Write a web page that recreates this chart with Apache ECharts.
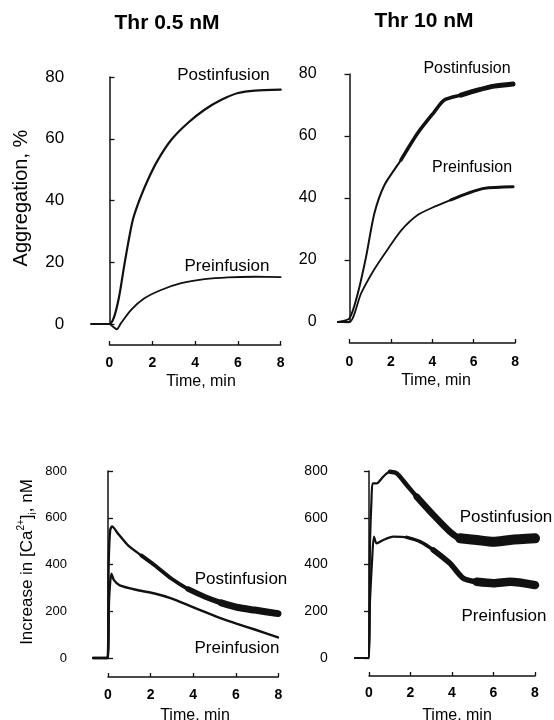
<!DOCTYPE html>
<html><head><meta charset="utf-8">
<script src="https://cdn.jsdelivr.net/npm/echarts@6/dist/echarts.min.js"></script>
<style>html,body{margin:0;padding:0;background:#fff}#c{width:554px;height:720px}</style>
</head><body><div id="c"></div>
<script>
// ---- Titles and labels ----
const titleLow = 'Thr 0.5 nM';
const titleHigh = 'Thr 10 nM';
const aggName = 'Aggregation, %';
const timeName = 'Time, min';
const postName = 'Postinfusion';
const preName = 'Preinfusion';

// ---- Tick values ----
const timeTicks = [0, 2, 4, 6, 8];
const aggTicks = [0, 20, 40, 60, 80];
const caTicks = [0, 200, 400, 600, 800];

// ---- Aggregation, Thr 0.5 nM ----
const aggLowPostT = [-0.85, 0, 0.22, 0.45, 0.69, 0.92, 1.1, 1.42, 1.78, 2.25, 2.88, 3.66, 4.44, 5.23, 6.01, 6.79, 8.0];
const aggLowPostV = [0, 0, 2.4, 8.9, 19.0, 28.0, 34.0, 40.5, 46.5, 53.0, 59.6, 65.1, 69.4, 72.6, 74.8, 75.6, 75.9];
const aggLowPreT = [-0.85, 0, 0.15, 0.34, 0.53, 1.0, 1.63, 2.41, 3.35, 4.44, 5.54, 6.79, 8.0];
const aggLowPreV = [0, 0, -0.8, -1.7, 0.2, 4.5, 8.3, 11.0, 13.2, 14.5, 15.1, 15.3, 15.2];

// ---- Aggregation, Thr 10 nM ----
const aggHighPostT = [-0.56, 0, 0.40, 0.80, 1.20, 1.69, 2.49, 3.29, 4.10, 4.58, 5.38, 6.18, 6.99, 7.9];
const aggHighPostV = [0, 1.2, 9.2, 21, 35, 44.2, 52.3, 60.9, 67.8, 71.6, 73.2, 74.8, 76.1, 76.8];
const aggHighPreT = [-0.56, 0, 0.56, 1.2, 1.85, 2.49, 3.29, 4.10, 4.90, 5.7, 6.5, 7.9];
const aggHighPreV = [0, 0, 9.2, 17.0, 23.5, 29.5, 34.5, 37.2, 39.4, 41.5, 43.1, 43.6];

// ---- [Ca2+]i, Thr 0.5 nM ----
const caLowPostT = [-0.7, -0.02, 0.03, 0.1, 0.19, 0.47, 0.94, 1.56, 2.19, 2.97, 3.76, 4.54, 5.32, 6.10, 6.89, 7.98];
const caLowPostV = [0, 0, 400, 546, 563, 532, 482, 439, 397, 340, 295, 262, 236, 216, 205, 190];
const caLowPreT = [-0.7, -0.02, 0.05, 0.16, 0.28, 0.55, 1.41, 2.19, 2.97, 3.76, 4.54, 5.32, 6.10, 6.89, 7.98];
const caLowPreV = [0, 0, 250, 361, 333, 311, 290, 276, 255, 226, 197, 169, 145, 122, 88];

// ---- [Ca2+]i, Thr 10 nM ----
const caHighPostT = [-0.67, -0.05, 0.05, 0.12, 0.18, 0.37, 0.69, 1.01, 1.33, 1.82, 2.30, 3.10, 3.90, 4.39, 5.19, 5.99, 6.8, 8.0];
const caHighPostV = [0, 0, 500, 676, 747, 747, 776, 797, 790, 740, 690, 612, 540, 512, 505, 497, 505, 512];
const caHighPreT = [-0.67, -0.05, 0.05, 0.15, 0.24, 0.37, 0.69, 1.17, 1.82, 2.46, 3.10, 3.90, 4.54, 5.19, 5.99, 6.8, 8.0];
const caHighPreV = [0, 0, 250, 420, 519, 490, 505, 519, 516, 498, 462, 405, 341, 326, 320, 326, 312];

const FF = '"Liberation Sans", Arial, Helvetica, sans-serif';
const INK = '#111';

function pts(ts, vs) { return ts.map((t, i) => [t, vs[i]]); }
function fromT(ts, vs, t0) { const k = ts.findIndex(t => t >= t0); return pts(ts, vs).slice(Math.max(0, k)); }

// panel geometry
const panels = [
  { t0: 109.5, ppm: 21.4, tmin: -1.7, top: 77, h: 247, axisY: 345, ticks: aggTicks, yFont: 17, yMargin: 9, yInside: true, xMargin: 11 },
  { t0: 349.5, ppm: 20.7, tmin: -1.2, top: 74, h: 248, axisY: 343, ticks: aggTicks, yFont: 16, yMargin: 8, yInside: false, xMargin: 12 },
  { t0: 108, ppm: 21.3, tmin: -1.5, top: 471, h: 187, axisY: 677, ticks: caTicks, yFont: 13, yMargin: 9, yInside: true, xMargin: 11 },
  { t0: 369, ppm: 20.75, tmin: -1.7, top: 471, h: 187, axisY: 676, ticks: caTicks, yFont: 14, yMargin: 6, yInside: false, xMargin: 10 }
];

const grid = [], xAxis = [], yAxis = [];
panels.forEach((p, i) => {
  const tmax = timeTicks[timeTicks.length - 1];
  grid.push({ left: p.t0 + p.tmin * p.ppm, width: (tmax - p.tmin) * p.ppm, top: p.top, height: p.h });
  xAxis.push({ gridIndex: 2 * i, type: 'value', min: p.tmin, max: tmax, show: false });
  yAxis.push({
    gridIndex: 2 * i, type: 'value', min: p.ticks[0], max: p.ticks[p.ticks.length - 1],
    interval: p.ticks[1] - p.ticks[0],
    axisLine: { show: true, lineStyle: { color: INK, width: 1.5 } },
    axisTick: { show: true, inside: p.yInside, length: 5, lineStyle: { color: INK, width: 1.3 } },
    axisLabel: { color: '#000', fontSize: p.yFont, fontFamily: FF, margin: p.yMargin },
    splitLine: { show: false }
  });
  // display time axis
  grid.push({ left: p.t0, width: tmax * p.ppm, top: p.axisY - 1, height: 1 });
  xAxis.push({
    gridIndex: 2 * i + 1, type: 'value', min: timeTicks[0], max: tmax, interval: timeTicks[1] - timeTicks[0],
    position: 'bottom',
    axisLine: { show: true, onZero: false, lineStyle: { color: INK, width: 1.5 } },
    axisTick: { show: true, inside: true, length: 4, lineStyle: { color: INK, width: 1.3 } },
    axisLabel: { color: '#000', fontSize: 14, fontWeight: 'bold', fontFamily: FF, margin: p.xMargin, showMinLabel: true, showMaxLabel: true },
    splitLine: { show: false }
  });
  yAxis.push({ gridIndex: 2 * i + 1, type: 'value', min: 0, max: 1, show: false });
});

function line(idx, data, width, name) {
  return {
    type: 'line', name: name, xAxisIndex: idx, yAxisIndex: idx, data: data,
    showSymbol: false, symbol: 'none', smooth: 0.25, clip: false, silent: true,
    lineStyle: { color: INK, width: width, cap: 'round', join: 'round' }
  };
}

const series = [
  // panel 1
  line(0, pts(aggLowPostT, aggLowPostV), 2.2, postName),
  line(0, pts(aggLowPreT, aggLowPreV), 1.8, preName),
  // panel 2
  line(2, pts(aggHighPostT, aggHighPostV), 2, postName),
  line(2, fromT(aggHighPostT, aggHighPostV, 2.49), 3.5, postName),
  line(2, fromT(aggHighPostT, aggHighPostV, 5.38), 5, postName),
  line(2, pts(aggHighPreT, aggHighPreV), 1.8, preName),
  line(2, fromT(aggHighPreT, aggHighPreV, 4.9), 3, preName),
  // panel 3
  line(4, pts(caLowPostT, caLowPostV), 2.4, postName),
  line(4, fromT(caLowPostT, caLowPostV, 1.56), 3.8, postName),
  line(4, fromT(caLowPostT, caLowPostV, 3.76), 5.5, postName),
  line(4, fromT(caLowPostT, caLowPostV, 5.32), 7, postName),
  line(4, pts(caLowPreT, caLowPreV), 2.4, preName),
  // panel 4
  line(6, pts(caHighPostT, caHighPostV), 2.2, postName),
  line(6, fromT(caHighPostT, caHighPostV, 1.01), 4.5, postName),
  line(6, fromT(caHighPostT, caHighPostV, 2.30), 6.5, postName),
  line(6, fromT(caHighPostT, caHighPostV, 4.39), 10, postName),
  line(6, pts(caHighPreT, caHighPreV), 2.2, preName),
  line(6, fromT(caHighPreT, caHighPreV, 1.82), 3.5, preName),
  line(6, fromT(caHighPreT, caHighPreV, 3.10), 5.5, preName),
  line(6, fromT(caHighPreT, caHighPreV, 5.19), 8.5, preName)
];

function txt(x, y, text, font, rot) {
  return {
    type: 'text', x: x, y: y, rotation: rot || 0, silent: true,
    style: { text: text, font: font, fill: '#000', align: 'center', verticalAlign: 'middle', textAlign: 'center', textVerticalAlign: 'middle' }
  };
}

const graphic = [
  txt(167, 23, titleLow, 'bold 21px ' + FF),
  txt(424, 21, titleHigh, 'bold 21px ' + FF),
  txt(21, 198, aggName, '20px ' + FF, Math.PI / 2),
  {
    type: 'text', x: 27, y: 562, rotation: Math.PI / 2, silent: true,
    style: {
      text: '{a|Increase in [Ca}{s|2+}{a|]}{b|i}{a|, nM}',
      align: 'center', verticalAlign: 'middle', textAlign: 'center', textVerticalAlign: 'middle',
      fill: '#000',
      rich: {
        a: { font: '17px ' + FF, fill: '#000', lineHeight: 22, verticalAlign: 'middle' },
        s: { font: '10px ' + FF, fill: '#000', lineHeight: 22, verticalAlign: 'top' },
        b: { font: '10px ' + FF, fill: '#000', lineHeight: 22, verticalAlign: 'bottom' }
      }
    }
  },
  txt(223.5, 75, postName, '17px ' + FF),
  txt(227, 266, preName, '17px ' + FF),
  txt(467, 69, postName, '16px ' + FF),
  txt(472, 168, preName, '16px ' + FF),
  txt(241, 579, postName, '17px ' + FF),
  txt(237, 648, preName, '17px ' + FF),
  txt(506, 517, postName, '17px ' + FF),
  txt(504, 616, preName, '17px ' + FF),
  txt(201, 382, timeName, '16px ' + FF),
  txt(436, 381, timeName, '16px ' + FF),
  txt(195, 716, timeName, '16px ' + FF),
  txt(457, 716, timeName, '16px ' + FF)
];

const chart = echarts.init(document.getElementById('c'), null, { renderer: 'canvas' });
chart.setOption({
  backgroundColor: '#fff',
  animation: false,
  grid: grid, xAxis: xAxis, yAxis: yAxis,
  series: series,
  graphic: graphic
});
</script></body></html>
